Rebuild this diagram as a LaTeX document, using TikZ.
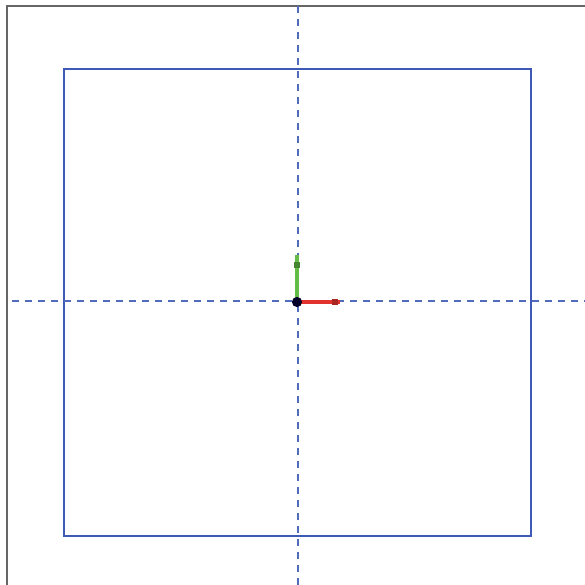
\documentclass[tikz,border=0pt]{standalone}
\usepackage{xcolor}
\usepackage{tikz}
\usetikzlibrary{arrows.meta,positioning}

\definecolor{frameblue}{RGB}{62,90,182}
\definecolor{axisred}{RGB}{226,50,46}
\definecolor{axisgreen}{RGB}{98,188,70}

\begin{document}
\begin{tikzpicture}[
  x=0.02cm, y=-0.02cm,
  guide/.style={draw=frameblue!90, line width=1.4pt, dash pattern=on 4pt off 3.4pt},
  origin/.style={circle, fill=black!60!blue!40!black, inner sep=0pt, minimum size=5.8pt},
  tick/.style={rectangle, inner sep=0pt}
]
\useasboundingbox (0,0) rectangle (585,585);
\draw[black!60, line width=0.8pt] (7,585) -- (7,6) -- (585,6);

\draw[frameblue, line width=1.3pt] (64,69) rectangle (531,536);

\coordinate (hl) at (12,301);
\coordinate (hr) at (585,301);
\coordinate (vt) at (298,6);
\coordinate (vb) at (298,585);
\draw[guide] (hl) -- (hr);
\draw[guide] (vt) -- (vb);

\coordinate (o) at (297,302);
\coordinate (xend) at (340,302);
\coordinate (yend) at (297,255);
\draw[axisred, line width=2.2pt] (o) -- (xend);
\draw[axisgreen, line width=2.2pt] (o) -- (yend);
\node[tick, fill=axisred!75!black, minimum width=3.6pt, minimum height=3.2pt] (xtick) at (335,302) {};
\node[tick, fill=axisgreen!70!black, minimum width=3.2pt, minimum height=3.6pt] (ytick) at (297,265) {};
\node[origin] (odot) at (o) {};
\end{tikzpicture}
\end{document}
